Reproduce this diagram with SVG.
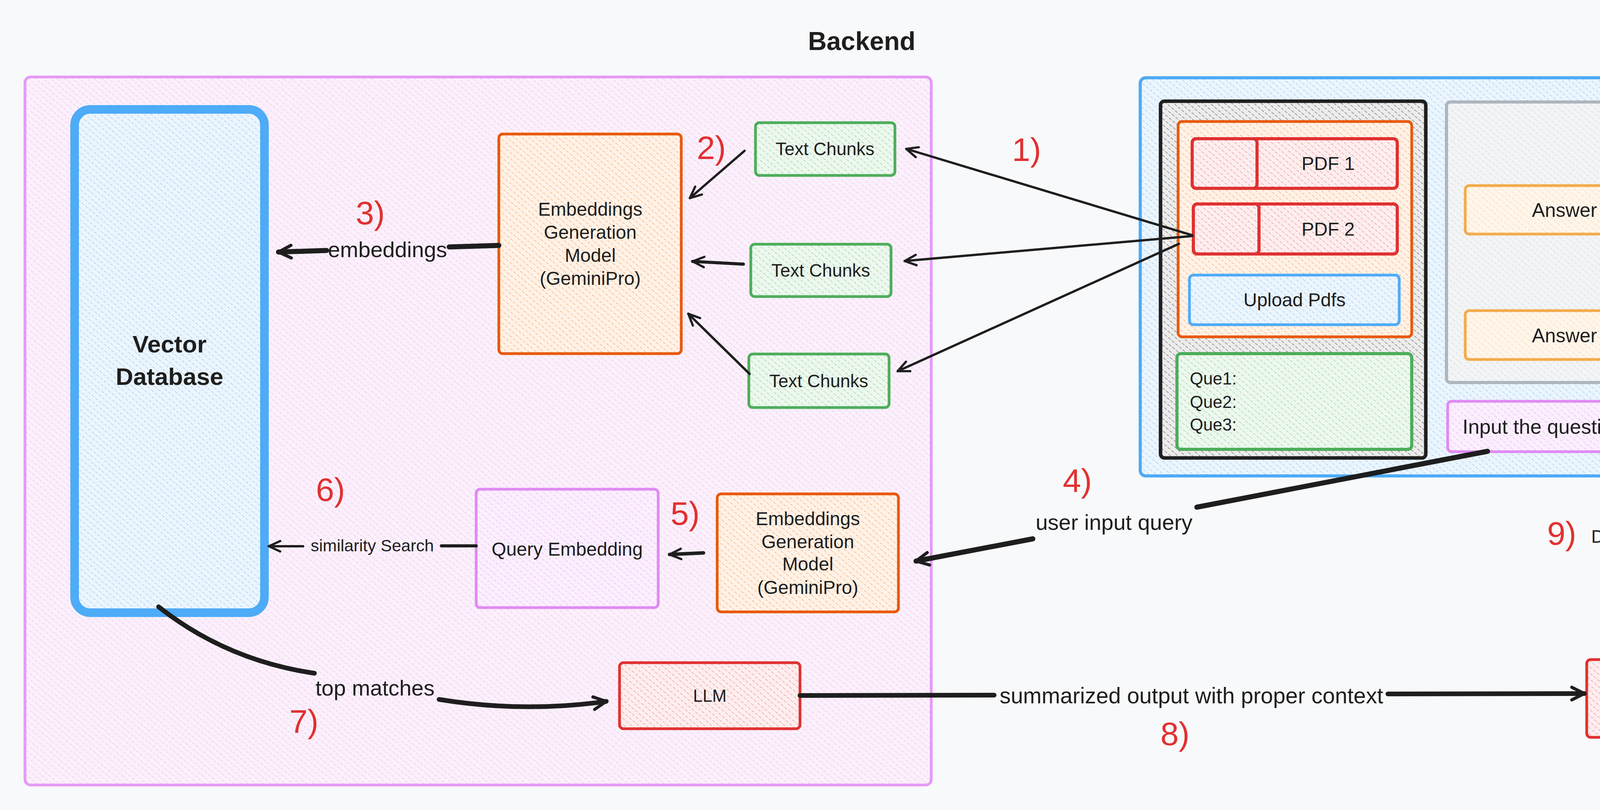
<svg xmlns="http://www.w3.org/2000/svg" width="4985" height="2073" viewBox="0 0 4985 2073">
<style>
  text { font-family: "Liberation Sans", Arial, sans-serif; fill: #1e1e1e; }
  .c { text-anchor: middle; dominant-baseline: central; }
  .l { text-anchor: start; dominant-baseline: central; }
  .t44 { font-size: 44px; }
  .t46 { font-size: 46px; }
  .t48 { font-size: 48px; }
  .t50 { font-size: 50px; }
  .t56 { font-size: 56px; }
  .title { font-size: 66px; font-weight: bold; }
  .num { font-size: 84px; fill: #e03131; }
  .box { stroke-linejoin: round; }
  .conn { fill: none; stroke: #1e1e1e; stroke-linecap: round; stroke-linejoin: round; }
</style>
<defs>
  <pattern id="hPink" patternUnits="userSpaceOnUse" width="12" height="12" patternTransform="rotate(-50)">
    <rect width="12" height="12" fill="#fbf0fb"/><line x1="0" y1="2" x2="0" y2="10" stroke="#f0c0f2" stroke-width="2.4"/>
  </pattern>
  <pattern id="hBlue" patternUnits="userSpaceOnUse" width="12" height="12" patternTransform="rotate(-50)">
    <rect width="12" height="12" fill="#ecf5fd"/><line x1="0" y1="2" x2="0" y2="10" stroke="#94c8f5" stroke-width="2.4"/>
  </pattern>
  <pattern id="hOrange" patternUnits="userSpaceOnUse" width="12" height="12" patternTransform="rotate(-50)">
    <rect width="12" height="12" fill="#fff2e7"/><line x1="0" y1="2" x2="0" y2="10" stroke="#f6a86f" stroke-width="2.4"/>
  </pattern>
  <pattern id="hRed" patternUnits="userSpaceOnUse" width="12" height="12" patternTransform="rotate(-50)">
    <rect width="12" height="12" fill="#fdeeef"/><line x1="0" y1="2" x2="0" y2="10" stroke="#ee8d8d" stroke-width="2.4"/>
  </pattern>
  <pattern id="hGreen" patternUnits="userSpaceOnUse" width="12" height="12" patternTransform="rotate(-50)">
    <rect width="12" height="12" fill="#edf8ee"/><line x1="0" y1="2" x2="0" y2="10" stroke="#92d09c" stroke-width="2.4"/>
  </pattern>
  <pattern id="hGray" patternUnits="userSpaceOnUse" width="12" height="12" patternTransform="rotate(-50)">
    <rect width="12" height="12" fill="#f3f4f5"/><line x1="0" y1="2" x2="0" y2="10" stroke="#d3d6d9" stroke-width="2.4"/>
  </pattern>
  <pattern id="hBlack" patternUnits="userSpaceOnUse" width="12" height="12" patternTransform="rotate(-50)">
    <rect width="12" height="12" fill="#ececec"/><line x1="0" y1="2" x2="0" y2="10" stroke="#666666" stroke-width="2.4"/>
  </pattern>
  <pattern id="hYellow" patternUnits="userSpaceOnUse" width="12" height="12" patternTransform="rotate(-50)">
    <rect width="12" height="12" fill="#fff6eb"/><line x1="0" y1="2" x2="0" y2="10" stroke="#f8d4a6" stroke-width="2.4"/>
  </pattern>
  <pattern id="hPurple" patternUnits="userSpaceOnUse" width="12" height="12" patternTransform="rotate(-50)">
    <rect width="12" height="12" fill="#fbeffd"/><line x1="0" y1="2" x2="0" y2="10" stroke="#ebb4f6" stroke-width="2.4"/>
  </pattern>
  <marker id="ah" markerUnits="userSpaceOnUse" viewBox="0 0 40 40" refX="37" refY="20" markerWidth="38" markerHeight="38" orient="auto">
    <path d="M6,6 L37,20 L6,34" fill="none" stroke="#1e1e1e" stroke-width="6" stroke-linecap="round" stroke-linejoin="round"/>
  </marker>
  <marker id="ahT" markerUnits="userSpaceOnUse" viewBox="0 0 40 40" refX="36" refY="20" markerWidth="46" markerHeight="46" orient="auto">
    <path d="M8,6 L36,20 L8,34" fill="none" stroke="#1e1e1e" stroke-width="7" stroke-linecap="round" stroke-linejoin="round"/>
  </marker>
</defs>

<rect width="4985" height="2073" fill="#f8f9fa"/>

<!-- containers -->
<g id="backend">
  <rect class="box" x="64" y="197" width="2320" height="1812" rx="14" fill="url(#hPink)" stroke="#e599f7" stroke-width="7"/>
  <text class="c title" x="2206" y="105">Backend</text>
</g>
<g id="frontend">
  <rect class="box" x="2919" y="199" width="2001" height="1019" rx="14" fill="url(#hBlue)" stroke="#4dabf7" stroke-width="8"/>
  <text class="c title" x="4760" y="138">Frontend</text>
</g>

<!-- backend nodes -->
<g id="vector-db">
  <rect class="box" x="191" y="280" width="486" height="1288" rx="40" fill="url(#hBlue)" stroke="#4dabf7" stroke-width="22"/>
  <text class="c" x="434" y="880" font-size="62" font-weight="bold">Vector</text>
  <text class="c" x="434" y="963" font-size="62" font-weight="bold">Database</text>
</g>
<g id="embeddings-model-1">
  <rect class="box" x="1277" y="343" width="467" height="562" rx="10" fill="url(#hOrange)" stroke="#e8590c" stroke-width="7"/>
  <text class="c t48" x="1511" y="535">Embeddings</text>
  <text class="c t48" x="1511" y="594">Generation</text>
  <text class="c t48" x="1511" y="653">Model</text>
  <text class="c t48" x="1511" y="712">(GeminiPro)</text>
</g>
<g id="text-chunks-1">
  <rect class="box" x="1934" y="314" width="357" height="135" rx="10" fill="url(#hGreen)" stroke="#4dad5b" stroke-width="7"/>
  <text class="c t46" x="2112" y="381">Text Chunks</text>
</g>
<g id="text-chunks-2">
  <rect class="box" x="1922" y="625" width="359" height="134" rx="10" fill="url(#hGreen)" stroke="#4dad5b" stroke-width="7"/>
  <text class="c t46" x="2101" y="692">Text Chunks</text>
</g>
<g id="text-chunks-3">
  <rect class="box" x="1917" y="906" width="359" height="137" rx="10" fill="url(#hGreen)" stroke="#4dad5b" stroke-width="7"/>
  <text class="c t46" x="2096" y="975">Text Chunks</text>
</g>
<g id="query-embedding">
  <rect class="box" x="1219" y="1252" width="466" height="303" rx="10" fill="url(#hPurple)" stroke="#e08af3" stroke-width="7"/>
  <text class="c t48" x="1452" y="1405">Query Embedding</text>
</g>
<g id="embeddings-model-2">
  <rect class="box" x="1836" y="1264" width="464" height="302" rx="10" fill="url(#hOrange)" stroke="#e8590c" stroke-width="7"/>
  <text class="c t48" x="2068" y="1327">Embeddings</text>
  <text class="c t48" x="2068" y="1386">Generation</text>
  <text class="c t48" x="2068" y="1443">Model</text>
  <text class="c t48" x="2068" y="1503">(GeminiPro)</text>
</g>
<g id="llm">
  <rect class="box" x="1586" y="1696" width="462" height="169" rx="10" fill="url(#hRed)" stroke="#e03131" stroke-width="7"/>
  <text class="c t44" x="1817" y="1780">LLM</text>
</g>
<g id="output-answer">
  <rect class="box" x="4062" y="1688" width="479" height="199" rx="10" fill="url(#hRed)" stroke="#e03131" stroke-width="7"/>
  <text class="c t50" x="4301" y="1788">Output Answer</text>
</g>

<!-- frontend nodes -->
<g id="upload-panel">
  <rect class="box" x="2971" y="259" width="679" height="913" rx="10" fill="url(#hBlack)" stroke="#1e1e1e" stroke-width="9"/>
</g>
<g id="pdf-uploader">
  <rect class="box" x="3016" y="311" width="598" height="551" rx="10" fill="url(#hOrange)" stroke="#e8590c" stroke-width="7"/>
</g>
<g id="pdf-1">
  <rect class="box" x="3052" y="355" width="525" height="127" rx="10" fill="url(#hRed)" stroke="#e03131" stroke-width="8"/>
  <rect class="box" x="3052" y="355" width="166" height="127" rx="10" fill="none" stroke="#e03131" stroke-width="8"/>
  <text class="c t48" x="3400" y="418">PDF 1</text>
</g>
<g id="pdf-2">
  <rect class="box" x="3055" y="522" width="522" height="128" rx="10" fill="url(#hRed)" stroke="#e03131" stroke-width="8"/>
  <rect class="box" x="3055" y="522" width="168" height="128" rx="10" fill="none" stroke="#e03131" stroke-width="8"/>
  <text class="c t48" x="3400" y="586">PDF 2</text>
</g>
<g id="upload-pdfs">
  <rect class="box" x="3045" y="704" width="537" height="127" rx="10" fill="url(#hBlue)" stroke="#4dabf7" stroke-width="7"/>
  <text class="c t48" x="3314" y="767">Upload Pdfs</text>
</g>
<g id="question-list">
  <rect class="box" x="3013" y="905" width="601" height="245" rx="10" fill="url(#hGreen)" stroke="#4dad5b" stroke-width="8"/>
  <text class="l t44" x="3046" y="968">Que1:</text>
  <text class="l t44" x="3046" y="1028">Que2:</text>
  <text class="l t44" x="3046" y="1086">Que3:</text>
</g>
<g id="chat-area">
  <rect class="box" x="3703" y="261" width="1156" height="718" rx="10" fill="url(#hGray)" stroke="#adb5bd" stroke-width="8"/>
</g>
<g id="question-1">
  <rect class="box" x="4309" y="320" width="505" height="126" rx="10" fill="url(#hYellow)" stroke="#f4ab4b" stroke-width="7"/>
  <text class="c t48" x="4561" y="384">Question</text>
</g>
<g id="answer-1">
  <rect class="box" x="3751" y="475" width="507" height="124" rx="10" fill="url(#hYellow)" stroke="#f4ab4b" stroke-width="7"/>
  <text class="c t50" x="4005" y="538">Answer</text>
</g>
<g id="question-2">
  <rect class="box" x="4313" y="631" width="509" height="125" rx="10" fill="url(#hYellow)" stroke="#f4ab4b" stroke-width="7"/>
  <text class="c t48" x="4567" y="694">Question</text>
</g>
<g id="answer-2">
  <rect class="box" x="3751" y="795" width="507" height="125" rx="10" fill="url(#hYellow)" stroke="#f4ab4b" stroke-width="7"/>
  <text class="c t50" x="4005" y="859">Answer</text>
</g>
<g id="input-question">
  <rect class="box" x="3706" y="1027" width="1156" height="129" rx="10" fill="url(#hPurple)" stroke="#e08af3" stroke-width="7"/>
  <text class="l" x="3744" y="1092" font-size="52">Input the question</text>
</g>

<!-- connectors -->
<g id="connectors">
  <path class="conn" d="M3052,602 L2320,381" stroke-width="6" marker-end="url(#ah)"/>
  <path class="conn" d="M3052,604 L2316,668" stroke-width="6" marker-end="url(#ah)"/>
  <path class="conn" d="M3018,624 L2298,950" stroke-width="6" marker-end="url(#ah)"/>
  <path class="conn" d="M1906,386 L1766,507" stroke-width="6" marker-end="url(#ah)"/>
  <path class="conn" d="M1903,676 L1773,669" stroke-width="8" marker-end="url(#ah)"/>
  <path class="conn" d="M1919,957 L1762,803" stroke-width="6" marker-end="url(#ah)"/>
  <path class="conn" d="M1277,628 L1150,632" stroke-width="13"/>
  <path class="conn" d="M836,641 L713,645" stroke-width="13" marker-end="url(#ahT)"/>
  <path class="conn" d="M1801,1415 L1714,1419" stroke-width="9" marker-end="url(#ah)"/>
  <path class="conn" d="M1219,1397 L1130,1397" stroke-width="8"/>
  <path class="conn" d="M776,1398 L688,1398" stroke-width="6" marker-end="url(#ah)"/>
  <path class="conn" d="M3808,1155 L3064,1298" stroke-width="13"/>
  <path class="conn" d="M2644,1379 L2345,1436" stroke-width="13" marker-end="url(#ahT)"/>
  <path class="conn" d="M406,1553 Q580,1690 805,1723" stroke-width="12"/>
  <path class="conn" d="M1124,1790 Q1340,1825 1552,1795" stroke-width="12" marker-end="url(#ahT)"/>
  <path class="conn" d="M2048,1780 L2545,1779" stroke-width="12"/>
  <path class="conn" d="M3553,1776 L4056,1775" stroke-width="12" marker-end="url(#ahT)"/>
  <path class="conn" d="M4269,1690 L4266,1412" stroke-width="5"/>
  <path class="conn" d="M4264,1338 L4258,947" stroke-width="5" marker-end="url(#ah)"/>
  <text class="c t56" x="992" y="638">embeddings</text>
  <text class="c" x="953" y="1396" font-size="43">similarity Search</text>
  <text class="c t56" x="2852" y="1336">user input query</text>
  <text class="c t56" x="960" y="1760">top matches</text>
  <text class="c" x="3050" y="1780" font-size="57">summarized output with proper context</text>
  <text class="c t46" x="4264" y="1373">Display to the user</text>
</g>

<!-- step numbers -->
<g id="step-numbers">
  <text class="c num" x="2628" y="383">1)</text>
  <text class="c num" x="1821" y="378">2)</text>
  <text class="c num" x="948" y="545">3)</text>
  <text class="c num" x="2758" y="1230">4)</text>
  <text class="c num" x="1754" y="1314">5)</text>
  <text class="c num" x="846" y="1253">6)</text>
  <text class="c num" x="778" y="1846">7)</text>
  <text class="c num" x="3008" y="1878">8)</text>
  <text class="c num" x="3998" y="1365">9)</text>
</g>
</svg>
